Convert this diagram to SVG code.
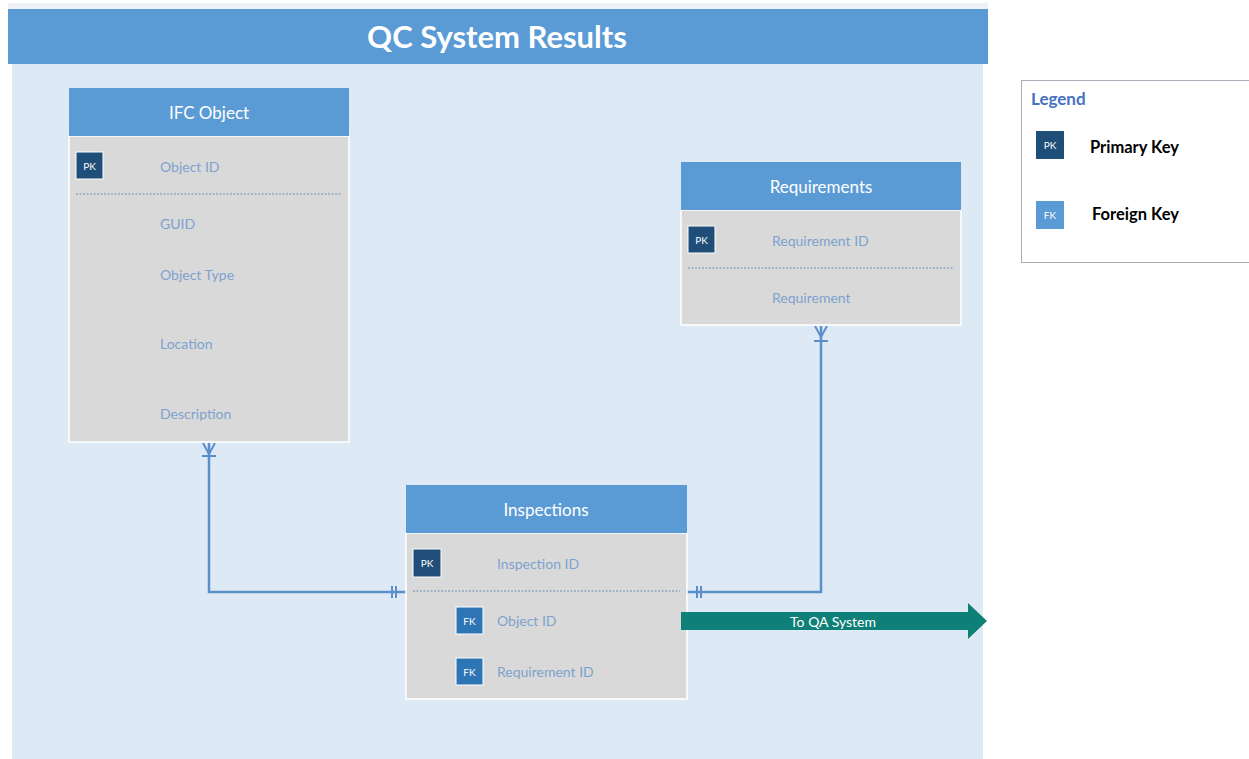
<svg xmlns="http://www.w3.org/2000/svg" width="1249" height="759" viewBox="0 0 1249 759">
<style>
.hdr{fill:#5b9bd5}
.body{fill:#d9d9d9;stroke:#ffffff;stroke-width:1.5}
.ht{font-family:Lato,"Open Sans",sans-serif;font-size:17px;fill:#ffffff;text-anchor:middle;dominant-baseline:central}
.ft{font-family:Lato,"Open Sans",sans-serif;font-size:14px;fill:#7ea2cf;dominant-baseline:central}
.pk{fill:#1f4e79;stroke:#ffffff;stroke-width:1}
.fk{fill:#2e75b6;stroke:#ffffff;stroke-width:1}
.kt{font-family:Lato,"Open Sans",sans-serif;font-size:10px;fill:#ffffff;text-anchor:middle;dominant-baseline:central}
.dash{stroke:#6f8fb5;stroke-width:1;stroke-dasharray:2,1.5}
.conn{fill:none;stroke:#5b8fc9;stroke-width:2.5}
.mk{fill:none;stroke:#5b8fc9;stroke-width:2}
.lg{font-family:Lato,"Open Sans",sans-serif;font-size:16.5px;font-weight:bold;fill:#000000;dominant-baseline:central}
</style>
<rect x="0" y="0" width="1249" height="759" fill="#ffffff"/>
<rect x="8" y="3" width="980" height="6" fill="#eef2f6"/>
<rect x="12" y="60" width="971" height="699" fill="#ddeaf6"/>
<rect x="8" y="9" width="980" height="55" fill="#5b9bd5"/>
<text x="497" y="36" font-family="Lato,'Open Sans',sans-serif" font-size="31" font-weight="bold" fill="#ffffff" text-anchor="middle" dominant-baseline="central">QC System Results</text>

<g id="connectors">
<polyline class="conn" points="209,443 209,592 406,592"/>
<path class="mk" d="M203,443 L209,454 L215,443 M209,443 L209,454 M202,456 L216,456"/>
<path class="mk" d="M392,586 L392,598 M396,586 L396,598"/>
<polyline class="conn" points="687,592 821,592 821,326"/>
<path class="mk" d="M815,326 L821,337 L827,326 M814,341 L828,341"/>
<path class="mk" d="M697,586 L697,598 M701,586 L701,598"/>
</g>

<g id="ifc-object">
<rect class="body" x="69" y="136" width="280" height="306"/>
<rect class="hdr" x="69" y="88" width="280" height="48"/>
<text class="ht" x="209" y="112">IFC Object</text>
<rect class="pk" x="76" y="152" width="27" height="27"/>
<text class="kt" x="89.5" y="165.5">PK</text>
<text class="ft" x="160" y="166">Object ID</text>
<line class="dash" x1="76" y1="194" x2="341" y2="194"/>
<text class="ft" x="160" y="223">GUID</text>
<text class="ft" x="160" y="274">Object Type</text>
<text class="ft" x="160" y="343">Location</text>
<text class="ft" x="160" y="413">Description</text>
</g>

<g id="requirements">
<rect class="body" x="681" y="210" width="280" height="115"/>
<rect class="hdr" x="681" y="162" width="280" height="48"/>
<text class="ht" x="821" y="186">Requirements</text>
<rect class="pk" x="688" y="226" width="27" height="27"/>
<text class="kt" x="701.5" y="239.5">PK</text>
<text class="ft" x="772" y="240">Requirement ID</text>
<line class="dash" x1="688" y1="268" x2="954" y2="268"/>
<text class="ft" x="772" y="297">Requirement</text>
</g>

<g id="inspections">
<rect class="body" x="406" y="533" width="281" height="166"/>
<rect class="hdr" x="406" y="485" width="281" height="48"/>
<text class="ht" x="546" y="509">Inspections</text>
<rect class="pk" x="413" y="549" width="28" height="28"/>
<text class="kt" x="427" y="563">PK</text>
<text class="ft" x="497" y="563">Inspection ID</text>
<line class="dash" x1="413" y1="591" x2="680" y2="591"/>
<rect class="fk" x="456" y="607" width="27" height="27"/>
<text class="kt" x="469.5" y="620.5">FK</text>
<text class="ft" x="497" y="620">Object ID</text>
<rect class="fk" x="456" y="658" width="27" height="27"/>
<text class="kt" x="469.5" y="671.5">FK</text>
<text class="ft" x="497" y="671">Requirement ID</text>
</g>

<g id="to-qa">
<path d="M681,612 L968,612 L968,603 L987,621 L968,639 L968,630 L681,630 Z" fill="#0f8078"/>
<text x="833" y="621" font-family="Lato,'Open Sans',sans-serif" font-size="14" fill="#ffffff" text-anchor="middle" dominant-baseline="central">To QA System</text>
</g>

<g id="legend">
<rect x="1021.5" y="80.5" width="240" height="182" fill="#ffffff" stroke="#a6aeb8" stroke-width="1"/>
<text x="1031" y="98" font-family="Lato,'Open Sans',sans-serif" font-size="17" font-weight="bold" fill="#4472c4" dominant-baseline="central">Legend</text>
<rect x="1036" y="131" width="28" height="28" fill="#1f4e79"/>
<text class="kt" x="1050" y="145">PK</text>
<text class="lg" x="1090" y="147">Primary Key</text>
<rect x="1036" y="201" width="28" height="28" fill="#5b9bd5"/>
<text class="kt" x="1050" y="215">FK</text>
<text class="lg" x="1092" y="214">Foreign Key</text>
</g>
</svg>
